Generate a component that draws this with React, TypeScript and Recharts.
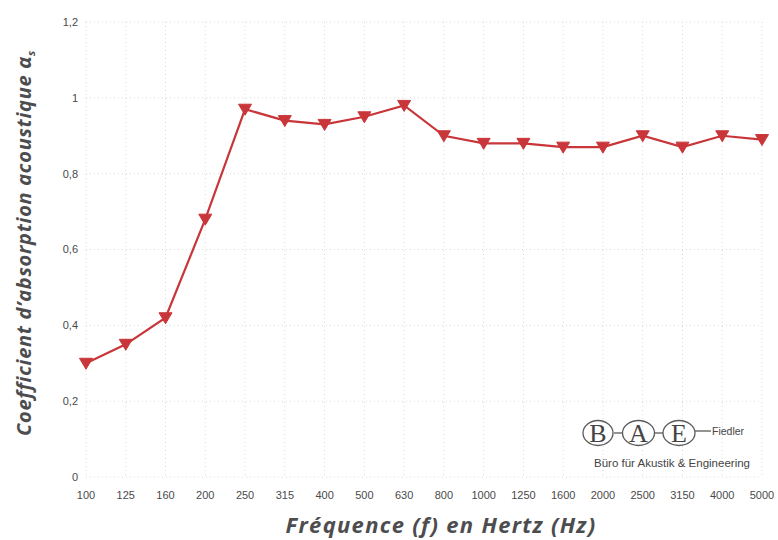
import React from 'react';
import { LineChart, Line, XAxis, YAxis, CartesianGrid } from 'recharts';

const frequencies = ['100', '125', '160', '200', '250', '315', '400', '500', '630', '800', '1000', '1250', '1600', '2000', '2500', '3150', '4000', '5000'];
const absorption = [0.3, 0.35, 0.42, 0.68, 0.97, 0.94, 0.93, 0.95, 0.98, 0.9, 0.88, 0.88, 0.87, 0.87, 0.9, 0.87, 0.9, 0.89];
const yTicks = [0, 0.2, 0.4, 0.6, 0.8, 1, 1.2];

const data = frequencies.map((f, i) => ({ f, a: absorption[i] }));

const RED = '#c9363a';
const LABEL = '#4d4d4f';

const TriangleDot = (props: any) => {
  const { cx, cy } = props;
  if (cx == null || cy == null) return null;
  const w = 6.5;
  return <path d={`M${cx - w},${cy - 5} L${cx + w},${cy - 5} L${cx},${cy + 6} Z`} fill={RED} stroke={RED} strokeWidth={1} />;
};

const fmt = (v: number) => (v === 0 || v === 1 ? String(v) : v.toFixed(1).replace('.', ','));

export default function App() {
  return (
    <div style={{ position: 'absolute', left: 0, top: 0, width: 778, height: 540, background: '#fff', fontFamily: '"Liberation Sans", Arial, sans-serif' }}>
      <LineChart width={778} height={540} data={data} margin={{ top: 22, right: 16, left: 0, bottom: 33 }}>
        <CartesianGrid stroke="#dadada" strokeDasharray="1 3" />
        <XAxis
          dataKey="f"
          axisLine={false}
          tickLine={false}
          tickMargin={8}
          interval={0}
          tick={{ fill: '#4a4a4a', fontSize: 11 }}
        />
        <YAxis
          width={86}
          domain={[0, 1.2]}
          ticks={yTicks}
          axisLine={false}
          tickLine={false}
          tickFormatter={fmt}
          tick={{ fill: '#4a4a4a', fontSize: 11 }}
        />
        <Line
          type="linear"
          dataKey="a"
          stroke={RED}
          strokeWidth={2.2}
          dot={<TriangleDot />}
          activeDot={false}
          isAnimationActive={false}
        />
      </LineChart>
      <svg width={778} height={540} style={{ position: 'absolute', left: 0, top: 0, pointerEvents: 'none' }}>
        <text
          transform="translate(31,243) rotate(-90)"
          textAnchor="middle"
          fill={LABEL}
          fontFamily='"Open Sans", sans-serif'
          fontWeight="bold"
          fontStyle="italic"
          fontSize={20}
          letterSpacing={0.7}
        >
          Coefficient d’absorption acoustique α<tspan fontSize={11} dy={4}>s</tspan>
        </text>
        <text
          x={441}
          y={533}
          textAnchor="middle"
          fill={LABEL}
          fontFamily='"Open Sans", sans-serif'
          fontWeight="bold"
          fontStyle="italic"
          fontSize={22}
          letterSpacing={1.3}
        >
          Fréquence (f) en Hertz (Hz)
        </text>
        <g fill="none" stroke="#5a5a5a" strokeWidth={1.3}>
          <ellipse cx={598} cy={433} rx={15} ry={12.5} />
          <ellipse cx={638.5} cy={433} rx={16} ry={12.5} />
          <ellipse cx={679} cy={433} rx={16} ry={12.5} />
          <line x1={614} y1={433} x2={622} y2={433} />
          <line x1={655} y1={433} x2={663} y2={433} />
          <line x1={695} y1={431} x2={711} y2={431} />
        </g>
        <g fill="#444" fontFamily='"Liberation Serif", serif' fontSize={26} textAnchor="middle">
          <text x={598} y={442}>B</text>
          <text x={638.5} y={442}>A</text>
          <text x={679} y={442}>E</text>
        </g>
        <text x={712} y={435} fill="#444" fontSize={10.5}>Fiedler</text>
        <text x={672} y={467} fill="#444" fontSize={11.5} textAnchor="middle">Büro für Akustik &amp; Engineering</text>
      </svg>
    </div>
  );
}
